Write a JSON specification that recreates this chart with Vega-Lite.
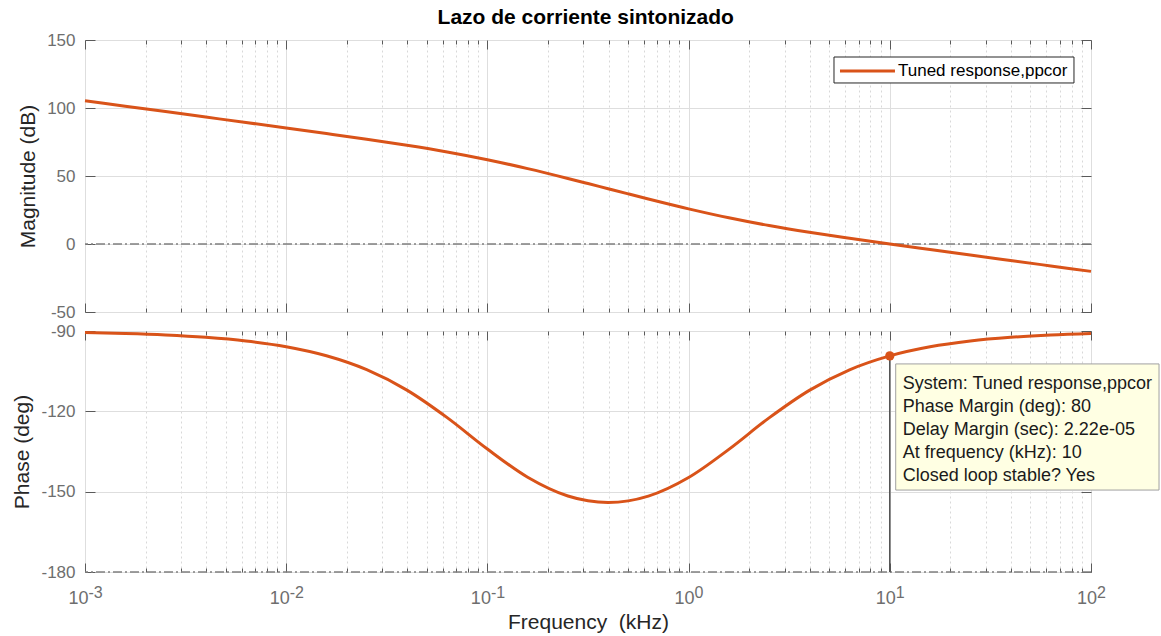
{
  "$schema": "https://vega.github.io/schema/vega-lite/v6.json",
  "padding": {"left": 11, "top": 6, "right": 0, "bottom": 0},
  "title": {"text": "Lazo de corriente sintonizado", "fontSize": 21, "fontWeight": "bold", "font": "Liberation Sans", "color": "#000000", "anchor": "middle", "offset": 3},
  "datasets": {
    "bode": [
      {"f": 0.001, "mag": 105.36, "phase": -90.59},
      {"f": 0.001585, "mag": 101.36, "phase": -90.94},
      {"f": 0.002512, "mag": 97.36, "phase": -91.48},
      {"f": 0.003981, "mag": 93.35, "phase": -92.35},
      {"f": 0.00631, "mag": 89.34, "phase": -93.71},
      {"f": 0.01, "mag": 85.31, "phase": -95.87},
      {"f": 0.01585, "mag": 81.23, "phase": -99.25},
      {"f": 0.02512, "mag": 77.05, "phase": -104.44},
      {"f": 0.03981, "mag": 72.62, "phase": -112.07},
      {"f": 0.0631, "mag": 67.69, "phase": -122.35},
      {"f": 0.1, "mag": 61.99, "phase": -134.08},
      {"f": 0.1585, "mag": 55.41, "phase": -144.62},
      {"f": 0.2512, "mag": 48.18, "phase": -151.62},
      {"f": 0.3162, "mag": 44.43, "phase": -153.42},
      {"f": 0.3981, "mag": 40.63, "phase": -154.04},
      {"f": 0.5012, "mag": 36.84, "phase": -153.44},
      {"f": 0.631, "mag": 33.09, "phase": -151.66},
      {"f": 1, "mag": 25.85, "phase": -144.71},
      {"f": 1.585, "mag": 19.27, "phase": -134.19},
      {"f": 2.512, "mag": 13.56, "phase": -122.45},
      {"f": 3.981, "mag": 8.62, "phase": -112.17},
      {"f": 6.31, "mag": 4.2, "phase": -104.49},
      {"f": 10, "mag": 0.0, "phase": -99.29},
      {"f": 15.85, "mag": -4.07, "phase": -95.9},
      {"f": 25.12, "mag": -8.12, "phase": -93.73},
      {"f": 39.81, "mag": -12.12, "phase": -92.36},
      {"f": 63.1, "mag": -16.12, "phase": -91.49},
      {"f": 100, "mag": -20.12, "phase": -90.94}
    ]
  },
  "vconcat": [
    {
      "width": 1006,
      "height": 272,
      "data": {"name": "bode"},
      "layer": [
        {
          "data": {"values": [{}]},
          "mark": {"type": "rule", "color": "#808080", "strokeWidth": 1.3, "strokeDash": [9, 3, 2, 3]},
          "encoding": {"y": {"datum": 0, "type": "quantitative", "axis": null}}
        },
        {
          "mark": {"type": "line", "color": "#D95319", "strokeWidth": 3, "interpolate": "monotone"},
          "encoding": {
            "x": {"field": "f", "type": "quantitative", "scale": {"type": "log", "domain": [0.001, 100], "nice": false},
              "axis": {"orient": "bottom", "values": [0.001, 0.01, 0.1, 1, 10, 100], "labels": false, "grid": true, "tickSize": -9, "title": null}},
            "y": {"field": "mag", "type": "quantitative", "scale": {"domain": [-50, 150], "nice": false, "zero": false},
              "axis": {"orient": "left", "values": [-50, 0, 50, 100, 150], "labelExpr": "datum.value + ''", "grid": true, "tickSize": -10, "labelPadding": 20, "title": "Magnitude (dB)", "titlePadding": 8}}
          }
        },
        {
          "mark": {"type": "line", "opacity": 0},
          "encoding": {
            "x": {"field": "f", "type": "quantitative", "axis": {"orient": "bottom", "values": [0.002,0.003,0.004,0.005,0.006,0.007,0.008,0.009,0.02,0.03,0.04,0.05,0.06,0.07,0.08,0.09,0.2,0.3,0.4,0.5,0.6,0.7,0.8,0.9,2,3,4,5,6,7,8,9,20,30,40,50,60,70,80,90], "labels": false, "grid": true, "gridDash": [2, 3], "gridColor": "#d8d8d8", "tickSize": -4, "title": null}},
            "y": {"field": "mag", "type": "quantitative", "axis": {"orient": "right", "values": [-50, 0, 50, 100, 150], "labels": false, "grid": false, "tickSize": -10, "title": null}}
          }
        },
        {
          "mark": {"type": "line", "opacity": 0},
          "encoding": {
            "x": {"field": "f", "type": "quantitative", "axis": {"orient": "top", "values": [0.001, 0.01, 0.1, 1, 10, 100], "labels": false, "grid": false, "tickSize": -9, "title": null}},
            "y": {"field": "mag", "type": "quantitative", "axis": null}
          }
        },
        {
          "mark": {"type": "line", "opacity": 0},
          "encoding": {
            "x": {"field": "f", "type": "quantitative", "axis": {"orient": "top", "values": [0.002,0.003,0.004,0.005,0.006,0.007,0.008,0.009,0.02,0.03,0.04,0.05,0.06,0.07,0.08,0.09,0.2,0.3,0.4,0.5,0.6,0.7,0.8,0.9,2,3,4,5,6,7,8,9,20,30,40,50,60,70,80,90], "labels": false, "grid": false, "tickSize": -4, "title": null}},
            "y": {"field": "mag", "type": "quantitative", "axis": null}
          }
        },
        {
          "data": {"values": [{}]},
          "mark": {"type": "rect", "fill": "#ffffff", "stroke": "#262626", "strokeWidth": 1},
          "encoding": {
            "x": {"datum": 5.28, "type": "quantitative", "axis": null},
            "x2": {"datum": 82.3},
            "y": {"datum": 137.5, "type": "quantitative", "axis": null},
            "y2": {"datum": 118.4}
          }
        },
        {
          "data": {"values": [{}]},
          "mark": {"type": "rule", "color": "#D95319", "strokeWidth": 3},
          "encoding": {
            "x": {"datum": 5.655, "type": "quantitative", "axis": null},
            "x2": {"datum": 10.61},
            "y": {"datum": 127.2, "type": "quantitative", "axis": null}
          }
        },
        {
          "data": {"values": [{}]},
          "mark": {"type": "text", "align": "left", "baseline": "middle", "fontSize": 17, "font": "Liberation Sans", "color": "#000000", "text": "Tuned response,ppcor"},
          "encoding": {
            "x": {"datum": 10.98, "type": "quantitative", "axis": null},
            "y": {"datum": 127.2, "type": "quantitative", "axis": null}
          }
        }
      ],
      "resolve": {"axis": {"x": "independent", "y": "independent"}}
    },
    {
      "width": 1006,
      "height": 241,
      "data": {"name": "bode"},
      "layer": [
        {
          "data": {"values": [{}]},
          "mark": {"type": "rule", "color": "#808080", "strokeWidth": 1.5, "strokeDash": [9, 3, 2, 3]},
          "encoding": {"y": {"datum": -180, "type": "quantitative", "axis": null}}
        },
        {
          "mark": {"type": "line", "color": "#D95319", "strokeWidth": 3, "interpolate": "monotone"},
          "encoding": {
            "x": {"field": "f", "type": "quantitative", "scale": {"type": "log", "domain": [0.001, 100], "nice": false},
              "axis": {"orient": "bottom", "values": [0.001, 0.01, 0.1, 1, 10, 100], "labels": true, "labelExpr": "'10'", "labelFontSize": 18, "labelAlign": "right",
                "labelOffset": {"condition": {"test": "datum.value < 0.5", "value": 3}, "value": 5.5},
                "labelPadding": 26, "grid": true, "tickSize": -9, "title": "Frequency \u00a0(kHz)", "titlePadding": 4}},
            "y": {"field": "phase", "type": "quantitative", "scale": {"domain": [-180, -90], "nice": false, "zero": false},
              "axis": {"orient": "left", "values": [-180, -150, -120, -90], "labelExpr": "datum.value + ''", "grid": true, "tickSize": -10, "labelPadding": 20, "title": "Phase (deg)", "titlePadding": 8}}
          }
        },
        {
          "mark": {"type": "line", "opacity": 0},
          "encoding": {
            "x": {"field": "f", "type": "quantitative", "axis": {"orient": "bottom", "values": [0.002,0.003,0.004,0.005,0.006,0.007,0.008,0.009,0.02,0.03,0.04,0.05,0.06,0.07,0.08,0.09,0.2,0.3,0.4,0.5,0.6,0.7,0.8,0.9,2,3,4,5,6,7,8,9,20,30,40,50,60,70,80,90], "labels": false, "grid": true, "gridDash": [2, 3], "gridColor": "#d8d8d8", "tickSize": -4, "title": null}},
            "y": {"field": "phase", "type": "quantitative", "axis": {"orient": "right", "values": [-180, -150, -120, -90], "labels": false, "grid": false, "tickSize": -10, "title": null}}
          }
        },
        {
          "mark": {"type": "line", "opacity": 0},
          "encoding": {
            "x": {"field": "f", "type": "quantitative", "axis": {"orient": "top", "values": [0.001, 0.01, 0.1, 1, 10, 100], "labels": false, "grid": false, "tickSize": -9, "title": null}},
            "y": {"field": "phase", "type": "quantitative", "axis": null}
          }
        },
        {
          "mark": {"type": "line", "opacity": 0},
          "encoding": {
            "x": {"field": "f", "type": "quantitative", "axis": {"orient": "top", "values": [0.002,0.003,0.004,0.005,0.006,0.007,0.008,0.009,0.02,0.03,0.04,0.05,0.06,0.07,0.08,0.09,0.2,0.3,0.4,0.5,0.6,0.7,0.8,0.9,2,3,4,5,6,7,8,9,20,30,40,50,60,70,80,90], "labels": false, "grid": false, "tickSize": -4, "title": null}},
            "y": {"field": "phase", "type": "quantitative", "axis": null}
          }
        },
        {
          "mark": {"type": "line", "opacity": 0},
          "encoding": {
            "x": {"field": "f", "type": "quantitative", "axis": {"orient": "bottom", "values": [0.001, 0.01, 0.1, 1, 10, 100], "labels": true, "ticks": true, "tickSize": 0, "grid": false, "title": null,
              "labelExpr": "datum.value == 0.001 ? '-3' : datum.value == 0.01 ? '-2' : datum.value == 0.1 ? '-1' : datum.value == 1 ? '0' : datum.value == 10 ? '1' : '2'",
              "labelFontSize": 16, "labelAlign": "left",
              "labelOffset": {"condition": {"test": "datum.value < 0.5", "value": 3}, "value": 5.5},
              "labelPadding": 12}},
            "y": {"field": "phase", "type": "quantitative", "axis": null}
          }
        },
        {
          "data": {"values": [{}]},
          "mark": {"type": "rule", "color": "#4d4d4d", "strokeWidth": 1.5},
          "encoding": {
            "x": {"datum": 10, "type": "quantitative", "axis": null},
            "y": {"datum": -99.29, "type": "quantitative", "axis": null},
            "y2": {"datum": -180}
          }
        },
        {
          "data": {"values": [{}]},
          "mark": {"type": "point", "filled": true, "shape": "circle", "size": 85, "color": "#D95319", "opacity": 1},
          "encoding": {
            "x": {"datum": 10, "type": "quantitative", "axis": null},
            "y": {"datum": -99.29, "type": "quantitative", "axis": null}
          }
        },
        {
          "data": {"values": [{}]},
          "mark": {"type": "rect", "fill": "#ffffe3", "stroke": "#a0a0a0", "strokeWidth": 1},
          "encoding": {
            "x": {"datum": 10.7, "type": "quantitative", "axis": null},
            "x2": {"datum": 217.8},
            "y": {"datum": -102.3, "type": "quantitative", "axis": null},
            "y2": {"datum": -149.4}
          }
        },
        {
          "data": {"values": [{}]},
          "mark": {"type": "text", "align": "left", "baseline": "top", "dx": 13, "fontSize": 18, "font": "Liberation Sans", "color": "#1a1a1a", "lineHeight": 23,
            "text": ["System: Tuned response,ppcor", "Phase Margin (deg): 80", "Delay Margin (sec): 2.22e-05", "At frequency (kHz): 10", "Closed loop stable? Yes"]},
          "encoding": {
            "x": {"datum": 10, "type": "quantitative", "axis": null},
            "y": {"datum": -106.5, "type": "quantitative", "axis": null}
          }
        }
      ],
      "resolve": {"axis": {"x": "independent", "y": "independent"}}
    }
  ],
  "spacing": 19,
  "bounds": "flush",
  "config": {
    "font": "Liberation Sans",
    "view": {"stroke": "#6a6a6a", "strokeWidth": 1},
    "axis": {"labelFont": "Liberation Sans", "labelFontSize": 17, "labelColor": "#6e6e6e", "titleFont": "Liberation Sans", "titleFontSize": 21, "titleFontWeight": "normal", "titleColor": "#262626", "tickColor": "#5a5a5a", "gridColor": "#dedede", "gridOpacity": 1, "domain": false}
  }
}
